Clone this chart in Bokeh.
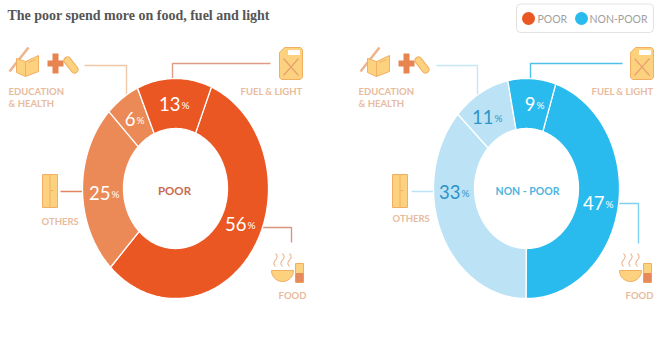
import numpy as np
from bokeh.embed import file_html
from bokeh.resources import INLINE
from bokeh.plotting import figure
from bokeh.models import Range1d, BoxAnnotation
from bokeh.core.properties import value

# ---- data -----------------------------------------------------------
title = "The poor spend more on food, fuel and light"
categories = ["FOOD", "OTHERS", "EDUCATION & HEALTH", "FUEL & LIGHT"]
poor_labels = [56, 25, 6, 13]
non_poor_labels = [47, 33, 11, 9]
# slice sizes as actually drawn in the picture (the non-poor arcs differ a little from their labels)
poor_arcs = [56, 25, 6, 13]
non_poor_arcs = [45, 36.7, 10, 8.3]
legend_names = ["POOR", "NON-POOR"]

# ---- layout ----------------------------------------------------------
CY, RX, RY, IRX, IRY = 188, 93, 110, 52, 60
YEL, YEL_L, ORG = "#FDD27F", "#F2AE63", "#E8895A"
LBL = "#E9BB9D"

p = figure(width=656, height=347, output_backend="svg", toolbar_location=None,
           x_range=Range1d(0, 656), y_range=Range1d(347, 0), min_border=0)
p.xaxis.visible = False
p.yaxis.visible = False
p.grid.visible = False
p.outline_line_color = None


def donut(cx, arcs, colors, start):
    a = start
    xs, ys = [], []
    for v in arcs:
        sweep = v * 3.6
        t = np.radians(np.linspace(a, a + sweep, max(int(sweep), 2) + 1))
        xs.append(np.r_[cx + RX * np.sin(t), cx + IRX * np.sin(t[::-1])])
        ys.append(np.r_[CY - RY * np.cos(t), CY - IRY * np.cos(t[::-1])])
        a += sweep
    p.patches(xs, ys, fill_color=colors, line_color="#FFFFFF", line_width=1.3)


def txt(x, y, s, size, color, align="left", font="Lato", style="bold"):
    p.text([x], [y], text=[s], text_font=value(font), text_font_size=f"{size}px",
           text_font_style=style, text_color=color, text_align=align, text_baseline="middle")


def pct(x, y, v, color, size=18.5):
    txt(x, y, str(v), size, color, "right", style="normal")
    txt(x + 1, y + 1, "%", 10, color, "left", style="normal")


def leader(pts, color):
    p.line([q[0] for q in pts], [q[1] for q in pts], line_color=color, line_width=1.4)


def shape(pts, fill=YEL, line=YEL_L, lw=1):
    p.patch([q[0] for q in pts], [q[1] for q in pts], fill_color=fill, line_color=line, line_width=lw)


def edu_icon(dx):
    p.line([9 + dx, 28 + dx], [71, 47], line_color="#EDB48E", line_width=2.6)
    shape([(16 + dx, 58), (25 + dx, 61), (25 + dx, 76), (16 + dx, 72)])
    shape([(25 + dx, 61), (38 + dx, 55), (38 + dx, 71), (25 + dx, 76)])
    p.line([28 + dx, 35 + dx], [62, 59], line_color=YEL_L, line_width=1)
    p.line([67 + dx, 74 + dx], [60, 69], line_color=YEL_L, line_width=8, line_cap="round")
    p.line([67 + dx, 74 + dx], [60, 69], line_color=YEL, line_width=6, line_cap="round")
    p.line([47 + dx, 63 + dx], [63, 63], line_color="#E8844F", line_width=6)
    p.line([55 + dx, 55 + dx], [53, 73], line_color="#E8844F", line_width=6)


def can_icon(dx):
    shape([(284 + dx, 47), (300 + dx, 47), (302 + dx, 49), (302 + dx, 77), (300 + dx, 79),
           (281 + dx, 79), (279 + dx, 77), (279 + dx, 52)])
    shape([(288 + dx, 50), (299 + dx, 50), (299 + dx, 54), (288 + dx, 54)], "#FFFFFF", "#FFFFFF")
    p.line([283 + dx, 298 + dx], [58, 75], line_color="#E8A070", line_width=1.2)
    p.line([298 + dx, 283 + dx], [58, 75], line_color="#E8A070", line_width=1.2)


def fridge_icon(dx):
    shape([(42 + dx, 174), (57 + dx, 174), (57 + dx, 207), (42 + dx, 207)])
    p.line([49.5 + dx, 49.5 + dx], [174, 207], line_color=YEL_L, line_width=1)
    p.line([50 + dx, 53 + dx], [190, 190], line_color=YEL_L, line_width=1)


def food_icon(dx):
    t = np.radians(np.linspace(0, 180, 25))
    shape(list(zip(282 + dx + 11 * np.cos(t), 270 + 11 * np.sin(t))))
    shape([(295 + dx, 263), (303 + dx, 263), (303 + dx, 282), (295 + dx, 282)])
    shape([(295.5 + dx, 273), (302.5 + dx, 273), (302.5 + dx, 281.5), (295.5 + dx, 281.5)], ORG, ORG)
    w = np.linspace(253, 266, 20)
    for x0 in (275, 282, 289):
        p.line(x0 + dx + 1.6 * np.sin((w - 253) / 13 * 2 * np.pi), w,
               line_color="#EDB48E", line_width=1.1)


# ---- title and legend -------------------------------------------------
txt(7, 15, title, 14, "#555555", font="Liberation Serif")
p.add_layout(BoxAnnotation(left=516, right=653, top=3.5, bottom=32, fill_color="#FFFFFF",
                           fill_alpha=1, line_color="#E2E2E2", line_width=1, line_alpha=1,
                           border_radius=4, level="underlay"))
p.scatter([528, 581], [18, 18], size=13, fill_color=["#EB5723", "#29BAEE"], line_color=None)
txt(537, 18.5, legend_names[0], 10.5, "#A0A0A0", style="normal")
txt(589, 18.5, legend_names[1], 10.5, "#A0A0A0", style="normal")

# ---- poor ------------------------------------------------------------
leader([(84, 65), (126, 65), (126, 95)], "#F0C8A8")
leader([(172, 79), (172, 63), (270, 63)], "#DE9C85")
leader([(60, 191), (82, 191)], "#E0855F")
leader([(262, 227), (291, 227), (291, 242)], "#D9957F")
donut(175, poor_arcs, ["#EB5723", "#EC8A57", "#EC8A57", "#EB5723"], 22.7)
pct(180, 103, poor_labels[3], "#FFFFFF")
pct(135, 118, poor_labels[2], "#FFFFFF")
pct(110, 192, poor_labels[1], "#FFFFFF")
pct(246, 223, poor_labels[0], "#FFFFFF")
txt(174, 190, "POOR", 11.5, "#C96A50", "center")

edu_icon(0)
can_icon(0)
fridge_icon(0)
food_icon(0)
txt(8, 91, "EDUCATION", 9.5, LBL)
txt(8, 103, "& HEALTH", 9.5, LBL)
txt(302, 91, "FUEL & LIGHT", 9.5, LBL, "right")
txt(41, 221, "OTHERS", 9.5, LBL)
txt(306, 295, "FOOD", 9.5, LBL, "right")

# ---- non-poor --------------------------------------------------------
leader([(436, 65), (477, 65), (477, 95)], "#C5E6F5")
leader([(530, 79), (530, 63), (622, 63)], "#4FC0E8")
leader([(411, 191), (433, 191)], "#BBE3F5")
leader([(618, 203), (638, 203), (638, 243)], "#7FCFEF")
donut(526, non_poor_arcs, ["#29BAEE", "#BBE3F5", "#BBE3F5", "#29BAEE"], 18.3)
pct(535, 103, non_poor_labels[3], "#FFFFFF")
pct(493, 116, non_poor_labels[2], "#2E94C9")
pct(460, 191, non_poor_labels[1], "#2E94C9")
pct(604, 202, non_poor_labels[0], "#FFFFFF")
txt(527, 190, "NON - POOR", 10.5, "#4DB5DE", "center")

edu_icon(351)
can_icon(351)
fridge_icon(350)
food_icon(348)
txt(358, 91, "EDUCATION", 9.5, LBL)
txt(358, 103, "& HEALTH", 9.5, LBL)
txt(653, 91, "FUEL & LIGHT", 9.5, LBL, "right")
txt(392, 218, "OTHERS", 9.5, LBL)
txt(653, 295, "FOOD", 9.5, LBL, "right")

open("out.html", "w").write(file_html(p, INLINE))
